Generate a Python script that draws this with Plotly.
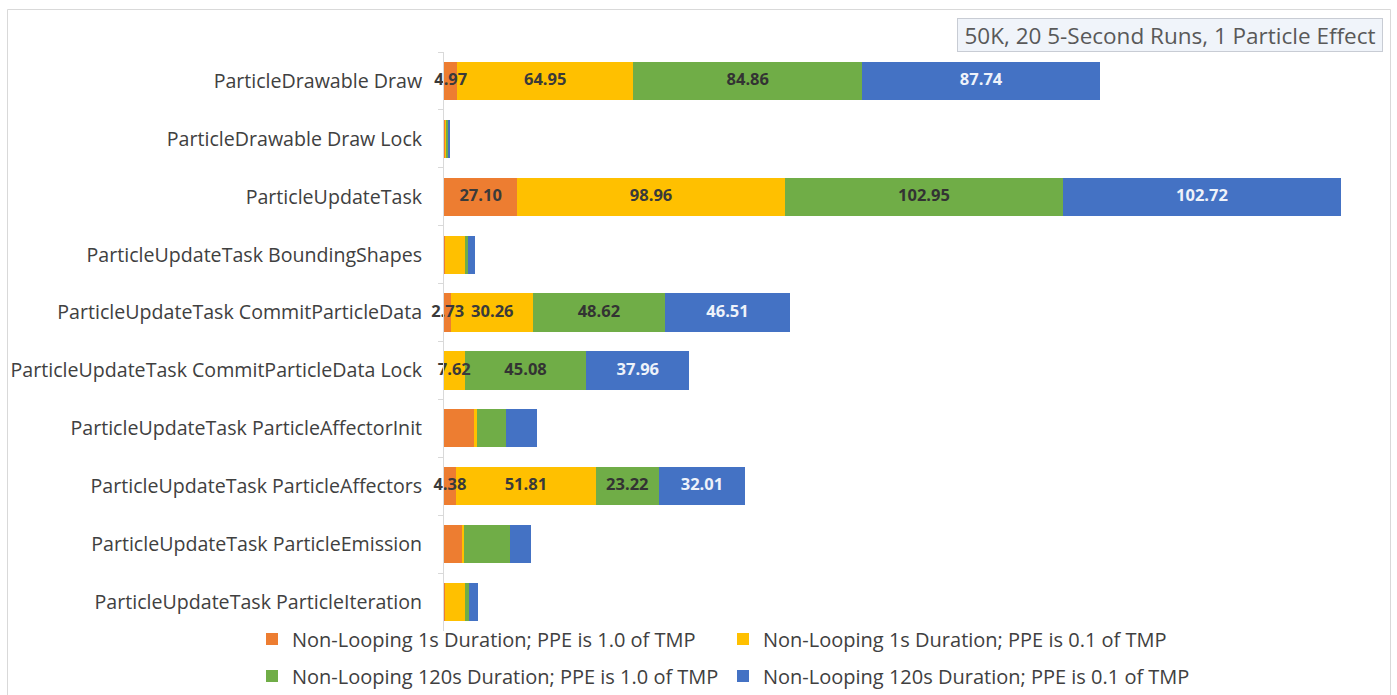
import plotly.graph_objects as go

# Profiler sections (one horizontal stacked bar each)
categories = [
    "ParticleDrawable Draw",
    "ParticleDrawable Draw Lock",
    "ParticleUpdateTask",
    "ParticleUpdateTask BoundingShapes",
    "ParticleUpdateTask CommitParticleData",
    "ParticleUpdateTask CommitParticleData Lock",
    "ParticleUpdateTask ParticleAffectorInit",
    "ParticleUpdateTask ParticleAffectors",
    "ParticleUpdateTask ParticleEmission",
    "ParticleUpdateTask ParticleIteration",
]

series_names = [
    "Non-Looping 1s Duration; PPE is 1.0 of TMP",
    "Non-Looping 1s Duration; PPE is 0.1 of TMP",
    "Non-Looping 120s Duration; PPE is 1.0 of TMP",
    "Non-Looping 120s Duration; PPE is 0.1 of TMP",
]

nl1s_ppe10 = [4.97, 0.2, 27.10, 0.2, 2.73, 0.0, 11.1, 4.38, 7.0, 0.2]
nl1s_ppe01 = [64.95, 0.9, 98.96, 7.8, 30.26, 7.62, 1.0, 51.81, 0.5, 7.4]
nl120s_ppe10 = [84.86, 0.2, 102.95, 0.7, 48.62, 45.08, 10.7, 23.22, 17.0, 1.8]
nl120s_ppe01 = [87.74, 0.8, 102.72, 2.6, 46.51, 37.96, 11.5, 32.01, 7.5, 3.3]

# Rows whose segments carry value labels
labelled = [True, False, True, False, True, True, False, True, False, False]

series_values = [nl1s_ppe10, nl1s_ppe01, nl120s_ppe10, nl120s_ppe01]
colors = ["#ED7D31", "#FFC000", "#70AD47", "#4472C4"]
label_colors = ["#3a3a3a", "#3a3a3a", "#333333", "#eef2fa"]

FONT = "Open Sans, Liberation Sans, sans-serif"
L, R, T, B = 444, 27, 52, 64
W, H = 1397, 695
PW, PH = W - L - R, H - T - B


def px_x(x):
    return (x - L) / PW


def px_y(y):
    return (H - B - y) / PH


# Legend entries laid out as a 2x2 grid below the bars (left x, centre y)
legend_ids = ["legend", "legend2", "legend3", "legend4"]
legend_pos = [(252, 639), (723, 639), (252, 676), (723, 676)]

fig = go.Figure()

for name, vals, col, lg in zip(series_names, series_values, colors, legend_ids):
    fig.add_trace(go.Bar(
        y=categories, x=vals, name=name, orientation="h", legend=lg,
        marker=dict(color=col, line=dict(width=0)),
        hovertemplate="%{y}: %{x:.2f}<extra>" + name + "</extra>",
    ))

# Value labels drawn on top of all segments, centred in each segment
offsets = [0.0] * len(categories)
for vals, tcol in zip(series_values, label_colors):
    xs, ys, texts = [], [], []
    for i, v in enumerate(vals):
        if labelled[i] and v > 0:
            xs.append(offsets[i] + v / 2)
            ys.append(categories[i])
            texts.append(f"{v:.2f}")
        offsets[i] += v
    fig.add_trace(go.Scatter(
        x=xs, y=ys, mode="text", text=texts, showlegend=False,
        textfont=dict(family=FONT, size=16.5, color=tcol, weight="bold"),
        hoverinfo="skip", cliponaxis=False,
    ))

legends = {}
for lg, (lx, ly) in zip(legend_ids, legend_pos):
    legends[lg] = dict(
        orientation="h", x=px_x(lx), xanchor="left",
        y=px_y(ly), yanchor="middle",
        font=dict(family=FONT, size=20, color="#404040"),
        bgcolor="rgba(0,0,0,0)",
    )

fig.update_layout(
    barmode="stack",
    bargap=0.34,
    width=W, height=H,
    margin=dict(l=L, r=R, t=T, b=B, autoexpand=False),
    paper_bgcolor="white", plot_bgcolor="white",
    font=dict(family=FONT, size=19.6, color="#404040"),
    xaxis=dict(range=[0, 342.5], visible=False, fixedrange=True),
    yaxis=dict(
        range=[9.5, -0.5], type="category",
        showline=True, linecolor="#d9d9d9", linewidth=1,
        ticks="outside", ticklen=5, tickcolor="#d9d9d9", tickson="boundaries",
        ticklabelstandoff=17, showgrid=False,
        tickfont=dict(family=FONT, size=19.6, color="#404040"),
    ),
    showlegend=True,
    shapes=[dict(
        type="rect", xref="paper", yref="paper",
        x0=px_x(7.5), x1=px_x(1390.5),
        y0=-0.3, y1=px_y(9.5),
        line=dict(color="#d9d9d9", width=1), fillcolor="rgba(0,0,0,0)",
        layer="below",
    )],
    annotations=[dict(
        text="50K, 20 5-Second Runs, 1 Particle Effect",
        xref="paper", yref="paper",
        x=px_x(1383), xanchor="right",
        y=px_y(34.5), yanchor="middle",
        width=420, height=28, align="center",
        showarrow=False,
        font=dict(family=FONT, size=22.5, color="#595959"),
        bgcolor="#f0f4fa", bordercolor="#c8ccd4", borderwidth=1, borderpad=2,
    )],
    **legends,
)

fig.write_html("out.html")
